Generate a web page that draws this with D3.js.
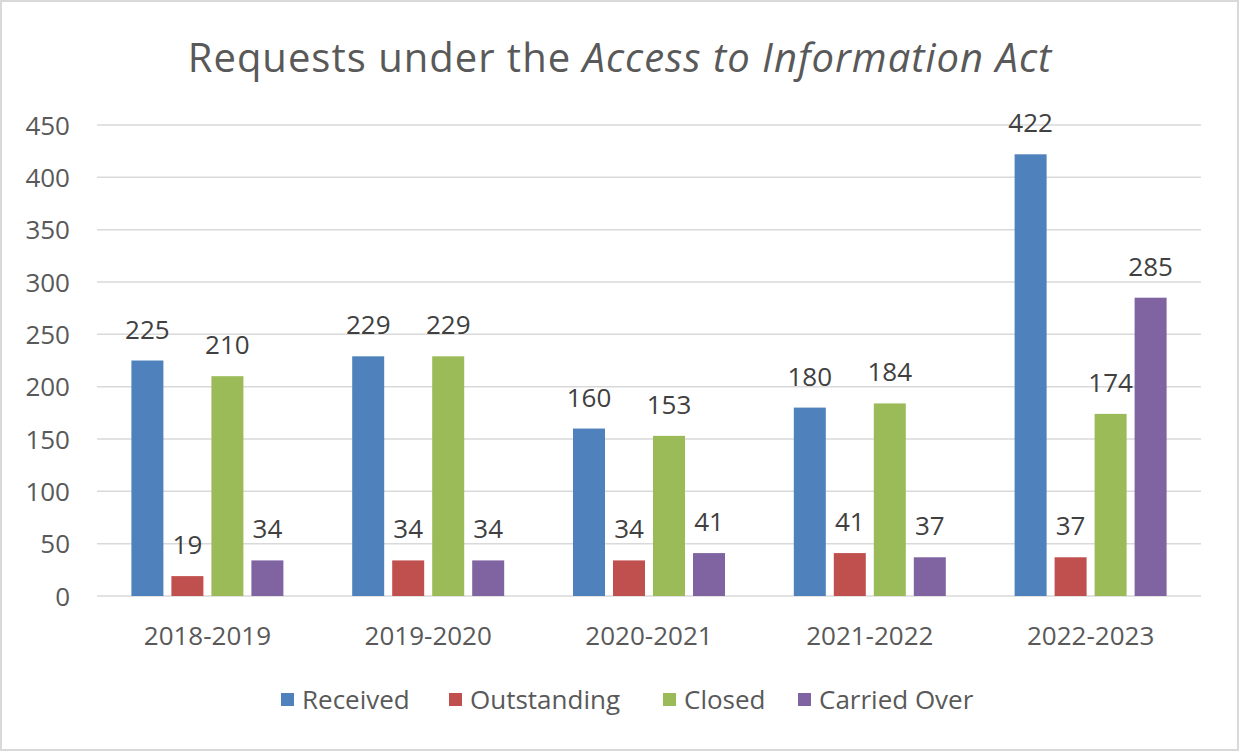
<!DOCTYPE html>
<html>
<head>
<meta charset="utf-8">
<script src="https://cdn.jsdelivr.net/npm/d3@7"></script>
<style>
  body { margin: 0; background: #fff; }
  text { font-family: "Open Sans", sans-serif; fill: #595959; }
</style>
</head>
<body>
<div id="chart"></div>
<script>
// Data
const years = ["2018-2019", "2019-2020", "2020-2021", "2021-2022", "2022-2023"];
const seriesNames = ["Received", "Outstanding", "Closed", "Carried Over"];
const received = [225, 229, 160, 180, 422];
const outstanding = [19, 34, 34, 41, 37];
const closed = [210, 229, 153, 184, 174];
const carriedOver = [34, 34, 41, 37, 285];
const yTicks = [0, 50, 100, 150, 200, 250, 300, 350, 400, 450];

const colors = ["#4f81bd", "#c0504d", "#9bbb59", "#8064a2"];
const allSeries = [received, outstanding, closed, carriedOver];

const width = 1239, height = 751;
const plot = { left: 97, right: 1201, top: 125, bottom: 596 };

const svg = d3.select("#chart").append("svg")
  .attr("width", width)
  .attr("height", height);

// Outer border
svg.append("rect")
  .attr("x", 1).attr("y", 1)
  .attr("width", width - 2).attr("height", height - 2)
  .attr("fill", "#fff")
  .attr("stroke", "#d9d9d9")
  .attr("stroke-width", 2);

// Scales
const y = d3.scaleLinear().domain([0, 450]).range([plot.bottom, plot.top]);
const x0 = d3.scaleBand().domain(years).range([plot.left, plot.right]).padding(0);
const x1 = d3.scaleBand().domain(d3.range(seriesNames.length))
  .range([0, x0.bandwidth()])
  .paddingInner(0.2)
  .paddingOuter(0.86);

// Gridlines
svg.append("g")
  .selectAll("line")
  .data(yTicks)
  .enter()
  .append("line")
  .attr("x1", plot.left)
  .attr("x2", plot.right)
  .attr("y1", d => y(d))
  .attr("y2", d => y(d))
  .style("stroke", "#d9d9d9")
  .style("stroke-width", "1.5px");

// Y axis labels
const yAxis = svg.append("g")
  .attr("transform", `translate(${plot.left - 27},0)`)
  .call(d3.axisLeft(y).tickValues(yTicks).tickSize(0).tickPadding(0));
yAxis.select(".domain").remove();
yAxis.selectAll("text")
  .style("font-size", "26px")
  .style("fill", "#595959")
  .attr("dy", "0.35em");

// X axis labels
const xAxis = svg.append("g")
  .attr("transform", `translate(0,${plot.bottom})`)
  .call(d3.axisBottom(x0).tickSize(0).tickPadding(0));
xAxis.select(".domain").remove();
xAxis.selectAll("text")
  .style("font-size", "26px")
  .style("fill", "#595959")
  .attr("y", 49)
  .attr("dy", 0);

// Bars
const groups = svg.append("g")
  .selectAll("g")
  .data(years)
  .enter()
  .append("g")
  .attr("transform", d => `translate(${x0(d)},0)`);

const barData = (yr, i) => allSeries.map((s, k) => ({ k: k, v: s[i] }));

groups.selectAll("rect")
  .data(barData)
  .enter()
  .append("rect")
  .attr("x", d => x1(d.k))
  .attr("width", x1.bandwidth())
  .attr("y", d => y(d.v))
  .attr("height", d => y(0) - y(d.v))
  .style("fill", d => colors[d.k]);

// Value labels
groups.selectAll("text.val")
  .data(barData)
  .enter()
  .append("text")
  .attr("class", "val")
  .attr("x", d => x1(d.k) + x1.bandwidth() / 2)
  .attr("y", d => y(d.v) - 22)
  .style("text-anchor", "middle")
  .style("font-size", "26px")
  .style("fill", "#404040")
  .text(d => d.v);

// Title
const title = svg.append("text")
  .attr("x", 620)
  .attr("y", 72)
  .style("text-anchor", "middle")
  .style("font-size", "40px")
  .style("letter-spacing", "1px")
  .style("fill", "#595959");
title.append("tspan").text("Requests under the ");
title.append("tspan").style("font-style", "italic").text("Access to Information Act");

// Legend
const legendX = [281, 449, 663, 798];
const legend = svg.append("g")
  .selectAll("g")
  .data(seriesNames)
  .enter()
  .append("g")
  .attr("transform", (d, i) => `translate(${legendX[i]},700)`);

legend.append("rect")
  .attr("x", 0)
  .attr("y", -7)
  .attr("width", 13)
  .attr("height", 13)
  .style("fill", (d, i) => colors[i]);

legend.append("text")
  .attr("x", 21)
  .attr("y", 0)
  .attr("dy", "0.35em")
  .style("font-size", "26px")
  .style("fill", "#595959")
  .text(d => d);
</script>
</body>
</html>
